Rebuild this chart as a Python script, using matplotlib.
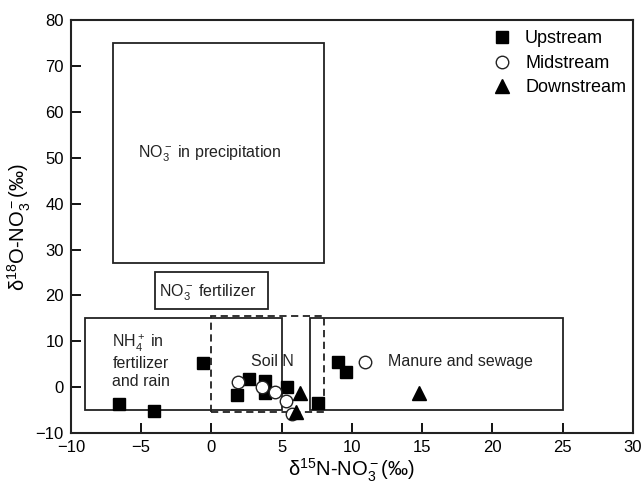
import matplotlib
matplotlib.use("Agg")
import matplotlib.pyplot as plt
from matplotlib.patches import Rectangle

plt.rcParams['font.family'] = ['Liberation Sans', 'DejaVu Sans']
plt.rcParams['mathtext.fontset'] = 'custom'
plt.rcParams['mathtext.rm'] = 'Liberation Sans'
plt.rcParams['mathtext.it'] = 'Liberation Sans:italic'
plt.rcParams['mathtext.default'] = 'regular'

# Isotope data: d15N-NO3 (x) and d18O-NO3 (y), per mil
up_x = [-6.6, -4.1, -0.6, 1.8, 2.7, 3.8, 3.8, 5.4, 7.6, 9.0, 9.6]
up_y = [-3.8, -5.3, 5.3, -1.8, 1.7, 1.4, -1.2, -0.1, -3.4, 5.5, 3.3]
mid_x = [1.9, 3.6, 4.5, 5.3, 5.7, 10.9]
mid_y = [1.0, 0.0, -1.1, -3.0, -5.9, 5.5]
down_x = [6.3, 6.0, 14.8]
down_y = [-1.3, -5.5, -1.4]

# Source end-member ranges: (x0, x1, y0, y1)
src_precip = (-7, 8, 27, 75)
src_fert = (-4, 4, 17, 25)
src_nh4 = (-9, 5, -5, 15)
src_soil = (0, 8, -5.5, 15.5)
src_manure = (7, 25, -5, 15)

fig = plt.figure(figsize=(6.44, 4.88), dpi=100)
ax = fig.add_axes([0.110, 0.113, 0.873, 0.845])

def box(r, ls='-'):
    x0, x1, y0, y1 = r
    ax.add_patch(Rectangle((x0, y0), x1 - x0, y1 - y0, fill=False,
                           edgecolor='#222222', lw=1.3, linestyle=ls, zorder=1))

box(src_precip)
box(src_fert)
box(src_nh4)
box(src_manure)
box(src_soil, ls=(0, (4, 2.5)))

ax.plot(up_x, up_y, 's', ms=8.5, color='black', mec='black', zorder=3, label='Upstream')
ax.plot(mid_x, mid_y, 'o', ms=9, mfc='white', mec='#222222', mew=1.0, zorder=3, label='Midstream')
ax.plot(down_x, down_y, '^', ms=10, color='black', mec='black', zorder=3, label='Downstream')

txt = dict(fontsize=11.5, color='#222222', zorder=2)
ax.text(-5.2, 51, 'NO$_3^-$ in precipitation', va='center', ha='left', **txt)
ax.text(-3.75, 20.5, 'NO$_3^-$ fertilizer', va='center', ha='left', **txt)
ax.text(-7.05, 9.5, 'NH$_4^+$ in', va='center', ha='left', **txt)
ax.text(-7.05, 5.2, 'fertilizer', va='center', ha='left', **txt)
ax.text(-7.05, 1.1, 'and rain', va='center', ha='left', **txt)
ax.text(2.85, 5.5, 'Soil N', va='center', ha='left', **txt)
ax.text(12.6, 5.5, 'Manure and sewage', va='center', ha='left', **txt)

ax.set_xlim(-10, 30)
ax.set_ylim(-10, 80)
ax.set_xticks(range(-10, 31, 5))
ax.set_yticks(range(-10, 81, 10))
ax.tick_params(direction='in', length=7, width=1.3, labelsize=12, pad=5)
for s in ax.spines.values():
    s.set_linewidth(1.5)
    s.set_color('#222222')

ax.set_xlabel('δ$^{15}$N-NO$_3^-$(‰)', fontsize=14.5, labelpad=1)
ax.set_ylabel('δ$^{18}$O-NO$_3^-$(‰)', fontsize=14.5, labelpad=2)

ax.legend(loc='upper right', frameon=False, fontsize=13, handletextpad=0.25,
          labelspacing=0.42, borderaxespad=0.3, bbox_to_anchor=(1.01, 1.007))

fig.savefig('out.png', dpi=100)
